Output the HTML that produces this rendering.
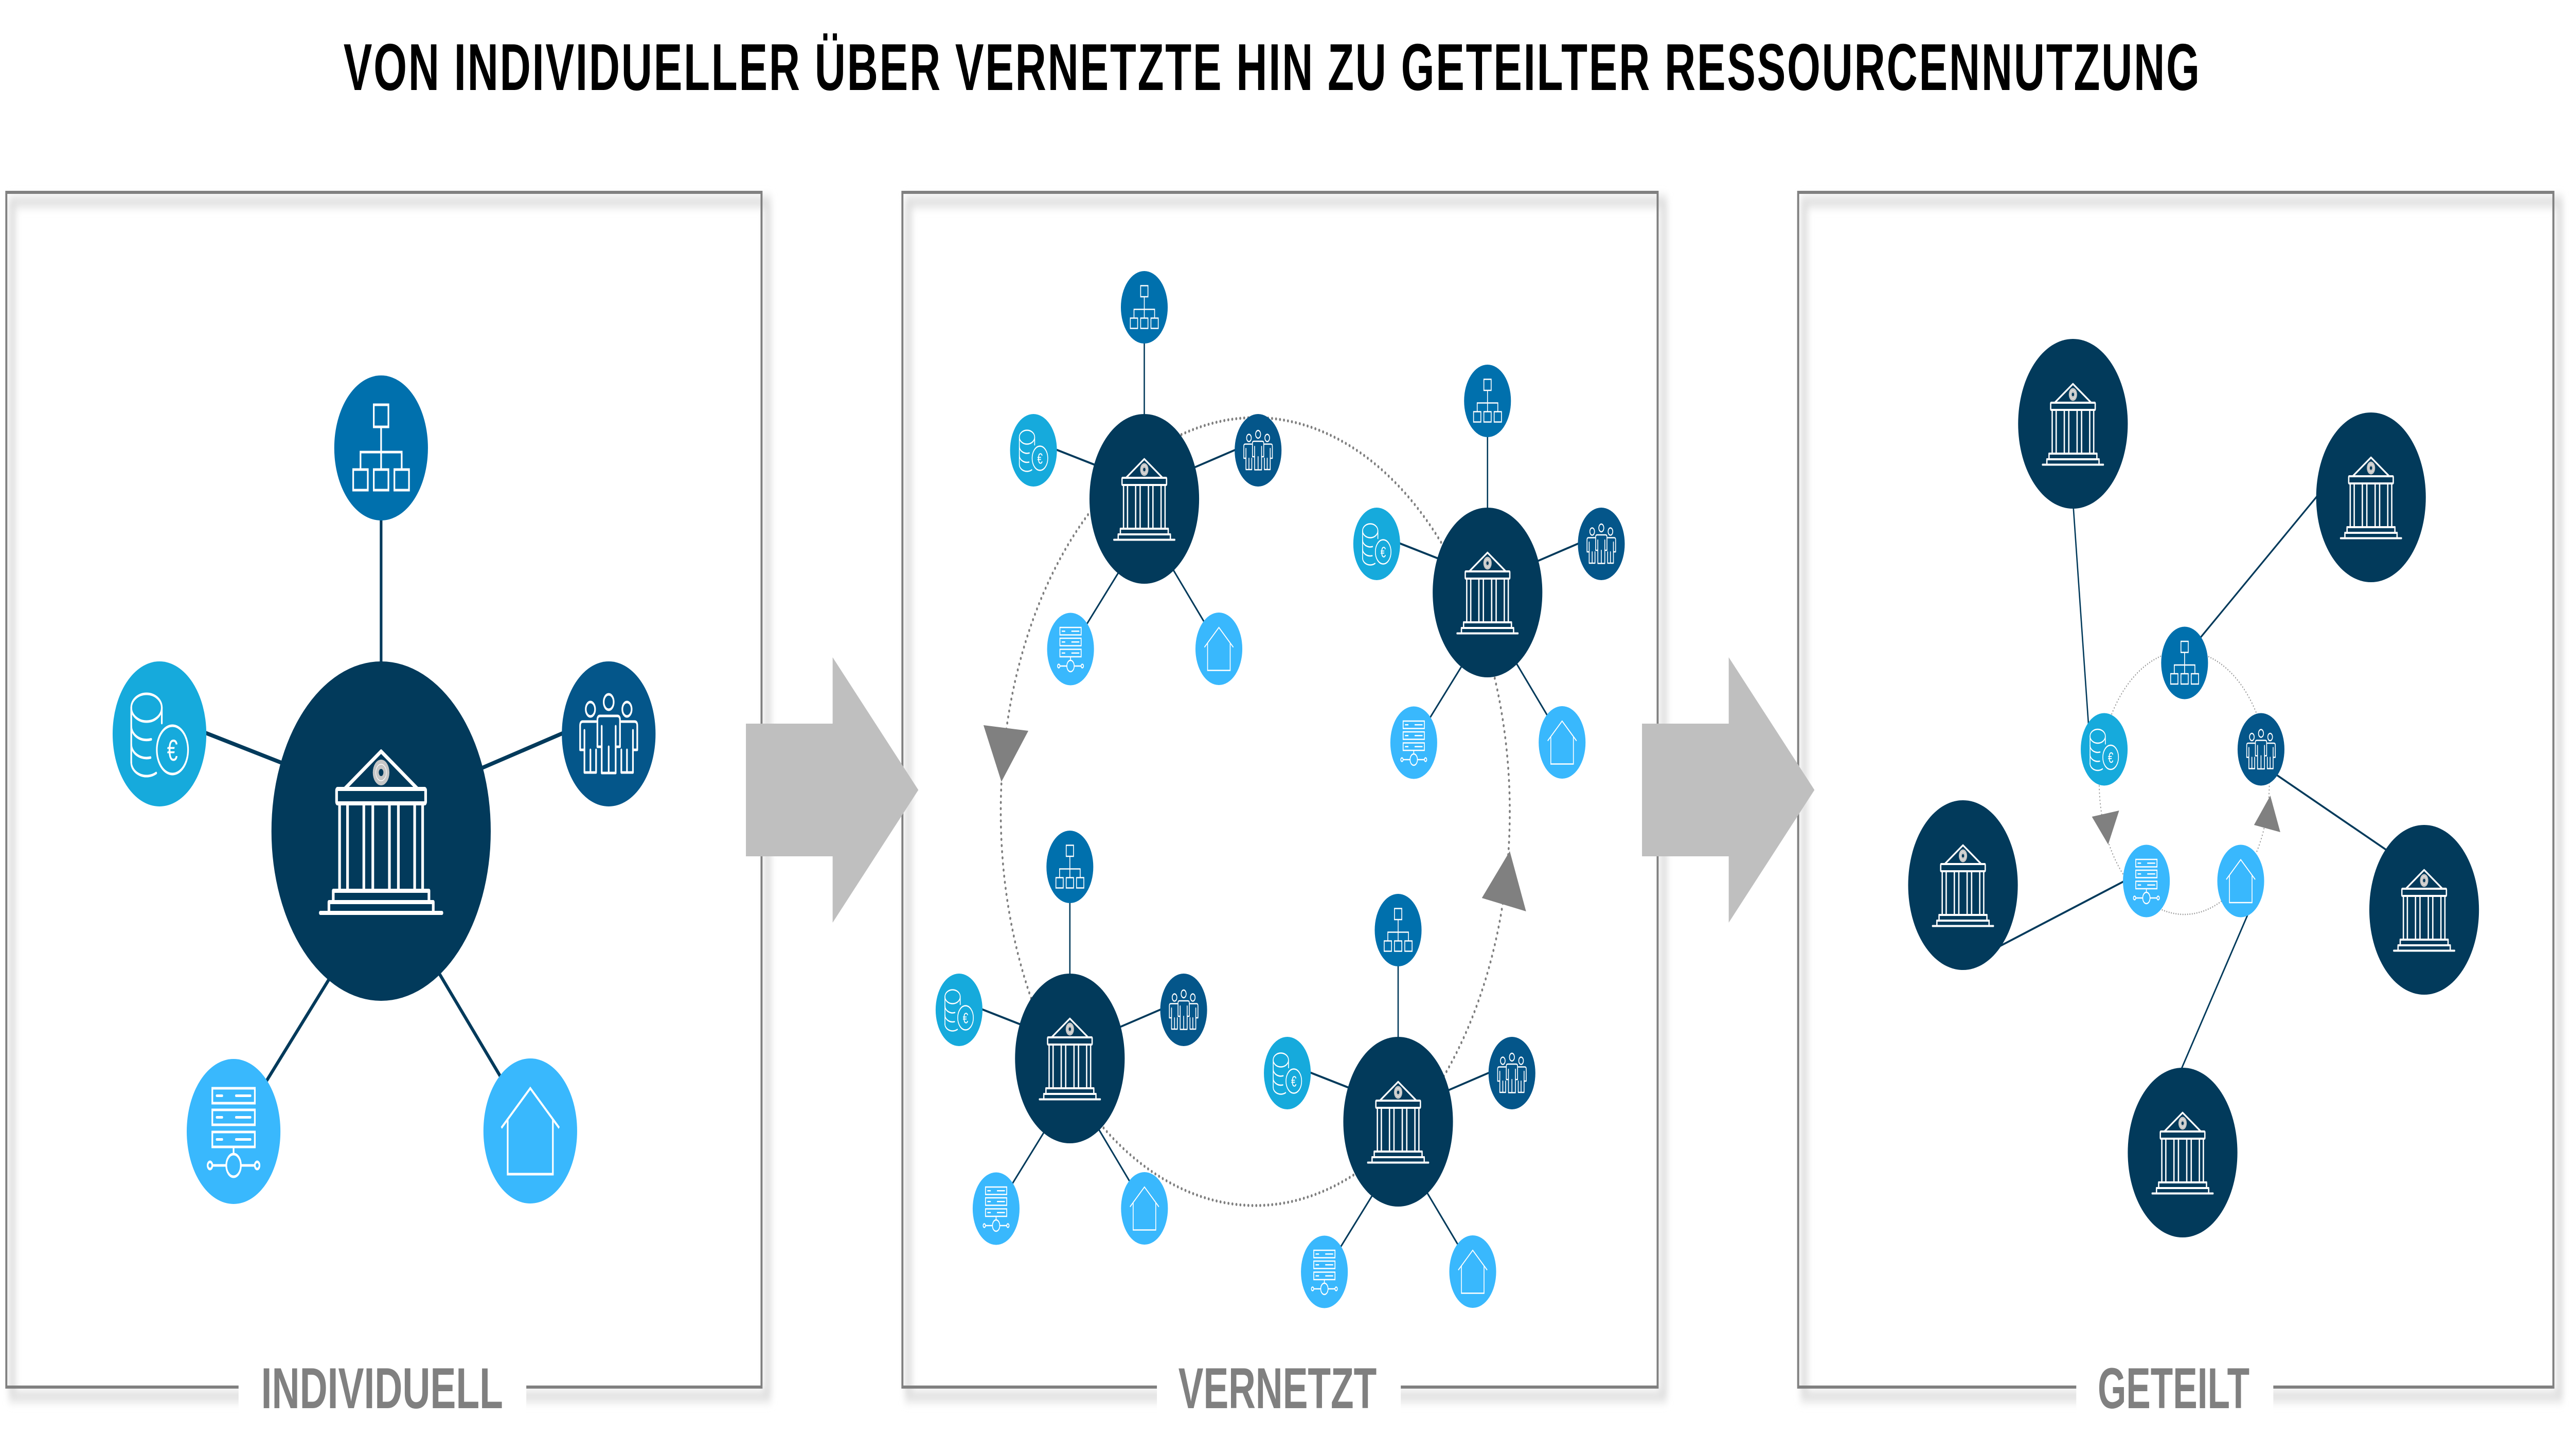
<!DOCTYPE html>
<html>
<head>
<meta charset="utf-8">
<style>
html,body{margin:0;padding:0;background:#fff;width:100%;height:100%;overflow:hidden;}
svg{display:block;width:100vw;height:100vh;}
</style>
</head>
<body>
<svg xmlns="http://www.w3.org/2000/svg" xmlns:xlink="http://www.w3.org/1999/xlink" viewBox="0 0 7741 2831" preserveAspectRatio="none">
<defs>
  <filter id="sh" x="-4%" y="-4%" width="108%" height="108%">
    <feGaussianBlur stdDeviation="9"/>
  </filter>

  <!-- Bank (large) -->
  <g id="bank">
    <circle r="330" fill="#023a5b"/>
    <g fill="none" stroke="#fff" stroke-width="8" stroke-linejoin="round" stroke-linecap="round">
      <polyline points="-110,-82 0,-155 110,-82"/>
      <rect x="-134" y="-82" width="268" height="28" rx="3"/>
      <path d="M-125,-54V116 M-101,-54V116 M-52,-54V116 M-25,-54V116 M25,-54V116 M52,-54V116 M101,-54V116 M125,-54V116"/>
      <rect x="-144" y="116" width="288" height="22"/>
      <path d="M-157,159V138H157V159"/>
      <line x1="-183" y1="159" x2="183" y2="159"/>
    </g>
    <circle cy="-114" r="25" fill="#c6c6c6"/>
    <circle cy="-114" r="16" fill="none" stroke="#fff" stroke-width="1.5"/>
    <circle cy="-114" r="7" fill="#023a5b"/>
  </g>

  <!-- Org chart node -->
  <g id="nOrg">
    <circle r="141" fill="#0070ad"/>
    <g fill="none" stroke="#fff" stroke-width="5">
      <rect x="-22" y="-84" width="44" height="43"/>
      <path d="M0,-41V42 M-62,42V8H62V42"/>
      <rect x="-84" y="42" width="44" height="40"/>
      <rect x="-22" y="42" width="44" height="40"/>
      <rect x="40" y="42" width="44" height="40"/>
    </g>
  </g>

  <!-- Coins node -->
  <g id="nCoins">
    <circle r="141" fill="#16aadc"/>
    <g fill="none" stroke="#fff" stroke-width="5" stroke-linecap="round">
      <ellipse cx="-39" cy="-51" rx="46" ry="27"/>
      <path d="M-85,-51V55 M7,-51V-21"/>
      <path d="M-85,-15A46,27 0 0 0 -25,10.5"/>
      <path d="M-85,20A46,27 0 0 0 -27,46"/>
      <path d="M-85,55A46,27 0 0 0 -10,76"/>
      <circle cx="39" cy="31" r="47"/>
    </g>
    <text x="39" y="52" text-anchor="middle" font-family="Liberation Sans, sans-serif" font-size="58" fill="#fff">€</text>
  </g>

  <!-- People node -->
  <g id="nPeople">
    <circle r="141" fill="#04568a"/>
    <g fill="none" stroke="#fff" stroke-width="5" stroke-linejoin="round" stroke-linecap="round">
      <circle cy="-62" r="15"/>
      <circle cx="-55" cy="-48" r="14"/>
      <circle cx="55" cy="-48" r="14"/>
      <path d="M-21,-15V76H21V-15 M0,25V76 M-21,25H-34V-27Q-34,-35 -26,-35H26Q34,-35 34,-27V25H21"/>
      <path d="M-73,-7V75H-38V31 M-55,31V75 M-73,31H-86V-16Q-86,-24 -78,-24H-38"/>
      <path d="M73,-7V75H38V31 M55,31V75 M73,31H86V-16Q86,-24 78,-24H38"/>
    </g>
  </g>

  <!-- Server node -->
  <g id="nServer">
    <circle r="141" fill="#39b8fd"/>
    <g fill="none" stroke="#fff" stroke-width="5" stroke-linecap="round">
      <rect x="-64" y="-84" width="128" height="29"/>
      <rect x="-64" y="-42" width="128" height="29"/>
      <rect x="-64" y="1" width="128" height="29"/>
      <path d="M-51,-69.5H-34 M7,-69.5H51 M-51,-27.5H-34 M7,-27.5H51 M-51,15.5H-34 M7,15.5H51"/>
      <path d="M0,30V44 M-64,66H-22 M22,66H64"/>
      <circle cy="66" r="22"/>
      <circle cx="-71" cy="66" r="7"/>
      <circle cx="71" cy="66" r="7"/>
    </g>
  </g>

  <!-- House node -->
  <g id="nHouse">
    <circle r="141" fill="#39b8fd"/>
    <g fill="none" stroke="#fff" stroke-width="5">
      <polyline points="-87,-6 0,-83 87,-6"/>
      <path d="M-68,-23V84H68V-23"/>
    </g>
  </g>

  <!-- Full cluster -->
  <g id="cluster">
    <g stroke="#023a5b" stroke-width="8">
      <line x1="0" y1="-650" x2="0" y2="-300"/>
      <line x1="-540" y1="-194" x2="-300" y2="-133"/>
      <line x1="290" y1="-119" x2="556" y2="-193"/>
      <line x1="-350" y1="491" x2="-150" y2="281"/>
      <line x1="165" y1="266" x2="360" y2="478"/>
    </g>
    <use xlink:href="#bank"/>
    <use xlink:href="#nOrg" x="0" y="-745"/>
    <use xlink:href="#nCoins" x="-667" y="-189"/>
    <use xlink:href="#nPeople" x="685" y="-189"/>
    <use xlink:href="#nServer" x="-444" y="584"/>
    <use xlink:href="#nHouse" x="449" y="583"/>
  </g>
</defs>

<rect width="7741" height="2831" fill="#fff"/>

<!-- Title -->
<text x="3827" y="175" text-anchor="middle" font-family="Liberation Sans, Arial, sans-serif" font-weight="bold" font-size="129" fill="#000" textLength="5586" lengthAdjust="spacing">VON INDIVIDUELLER ÜBER VERNETZTE HIN ZU GETEILTER RESSOURCENNUTZUNG</text>

<!-- Panel shadows -->
<g fill="none" stroke="#dedede" stroke-width="20" filter="url(#sh)">
  <rect x="37" y="392" width="2273" height="2323"/>
  <rect x="2734" y="392" width="2273" height="2323"/>
  <rect x="5430" y="392" width="2273" height="2323"/>
</g>
<!-- Panel borders -->
<g fill="none" stroke="#808080" stroke-width="6">
  <rect x="19" y="374" width="2273" height="2323"/>
  <rect x="2716" y="374" width="2273" height="2323"/>
  <rect x="5412" y="374" width="2273" height="2323"/>
</g>

<!-- Panel 1 -->
<use xlink:href="#cluster" transform="translate(1147,1616)"/>

<!-- Panel 2 -->
<circle cx="3778" cy="1578" r="766" fill="none" stroke="#7f7f7f" stroke-width="6" stroke-dasharray="0 12" stroke-linecap="round"/>
<polygon points="2960,1410 3095,1421 3014,1520" fill="#808080"/>
<polygon points="4544,1655 4460,1746 4593,1772" fill="#808080"/>
<use xlink:href="#cluster" transform="translate(3444,970) scale(0.5)"/>
<use xlink:href="#cluster" transform="translate(4477,1152) scale(0.5)"/>
<use xlink:href="#cluster" transform="translate(3220,2058) scale(0.5)"/>
<use xlink:href="#cluster" transform="translate(4208,2181) scale(0.5)"/>

<!-- Panel 3 -->
<circle cx="6574" cy="1522" r="256" fill="none" stroke="#9a9a9a" stroke-width="3" stroke-dasharray="0 7" stroke-linecap="round"/>
<g stroke="#023a5b" stroke-width="4">
  <line x1="6239" y1="975" x2="6287" y2="1420"/>
  <line x1="6985" y1="956" x2="6616" y2="1245"/>
  <line x1="6015" y1="1841" x2="6400" y2="1711"/>
  <line x1="7190" y1="1656" x2="6848" y2="1505"/>
  <line x1="6563" y1="2082" x2="6766" y2="1777"/>
</g>
<polygon points="6296,1588 6378,1576 6345,1642" fill="#808080"/>
<polygon points="6833,1547 6784,1604 6863,1618" fill="#808080"/>
<use xlink:href="#bank" transform="translate(6239,824) scale(0.5)"/>
<use xlink:href="#bank" transform="translate(7136,967) scale(0.5)"/>
<use xlink:href="#bank" transform="translate(5908,1721) scale(0.5)"/>
<use xlink:href="#bank" transform="translate(7296,1769) scale(0.5)"/>
<use xlink:href="#bank" transform="translate(6569,2241) scale(0.5)"/>
<use xlink:href="#nOrg" transform="translate(6575,1289) scale(0.5)"/>
<use xlink:href="#nCoins" transform="translate(6333,1457) scale(0.5)"/>
<use xlink:href="#nPeople" transform="translate(6805,1457) scale(0.5)"/>
<use xlink:href="#nServer" transform="translate(6460,1713) scale(0.5)"/>
<use xlink:href="#nHouse" transform="translate(6744,1713) scale(0.5)"/>

<!-- Big arrows between panels -->
<polygon points="2245,1407 2506,1407 2506,1278 2764,1536 2506,1794 2506,1665 2245,1665" fill="#bfbfbf"/>
<polygon points="4942,1407 5203,1407 5203,1278 5461,1536 5203,1794 5203,1665 4942,1665" fill="#bfbfbf"/>

<!-- Panel labels -->
<g fill="#fff">
  <rect x="718" y="2670" width="866" height="100"/>
  <rect x="3482" y="2670" width="734" height="100"/>
  <rect x="6249" y="2670" width="593" height="100"/>
</g>
<g font-family="Liberation Sans, Arial, sans-serif" font-weight="bold" font-size="112" fill="#808080" text-anchor="middle">
  <text x="1150" y="2738" textLength="728" lengthAdjust="spacingAndGlyphs">INDIVIDUELL</text>
  <text x="3845" y="2738" textLength="597" lengthAdjust="spacingAndGlyphs">VERNETZT</text>
  <text x="6542" y="2738" textLength="457" lengthAdjust="spacingAndGlyphs">GETEILT</text>
</g>
</svg>
</body>
</html>
